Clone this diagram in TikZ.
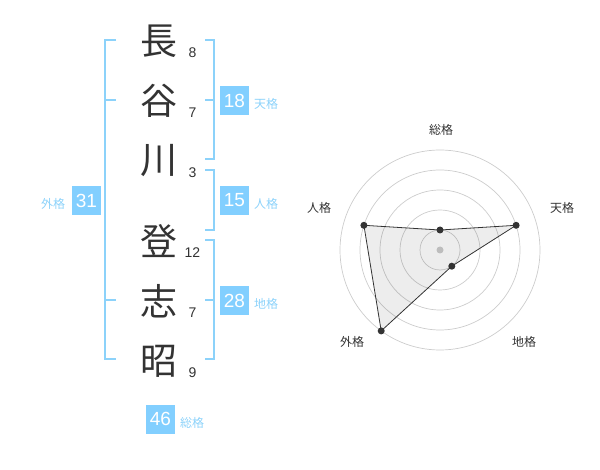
\documentclass[tikz,border=0pt]{standalone}
\usepackage{fontspec}
\setmainfont{Liberation Sans}
\newfontfamily\jp{Noto Sans CJK JP}
\definecolor{boxblue}{HTML}{82CFFF}
\definecolor{brblue}{HTML}{8CD2FA}
\definecolor{txtgray}{HTML}{333333}
\definecolor{ringgray}{HTML}{CCCCCC}
\begin{document}
\begin{tikzpicture}[x=1pt,y=-1pt,
  kanji/.style={font=\jp\fontsize{37}{37}\selectfont, text=txtgray, inner sep=0pt},
  strokes/.style={font=\fontsize{14}{14}\selectfont, text=txtgray, inner sep=0pt},
  numbox/.style={fill=boxblue, minimum size=29pt, inner sep=0pt, text=white, font=\fontsize{19}{19}\selectfont},
  lbl/.style={font=\jp\fontsize{12}{12}\selectfont, text=brblue, inner sep=0pt},
  rlbl/.style={font=\jp\fontsize{12}{12}\selectfont, text=txtgray, inner sep=0pt},
  br/.style={draw=brblue, line width=1.8pt},
  ring/.style={draw=ringgray, line width=0.7pt},
  dot/.style={circle, fill=txtgray, minimum size=7pt, inner sep=0pt}]
\useasboundingbox (0,0) rectangle (600,470);
% characters
\node[kanji] (c1) at (159,41) {長};
\node[kanji] (c2) at (159,101) {谷};
\node[kanji] (c3) at (159,161) {川};
\node[kanji] (c4) at (159,241) {登};
\node[kanji] (c5) at (159,301) {志};
\node[kanji] (c6) at (159,361) {昭};
% stroke counts
\node[strokes] (s1) at (192.5,52.5) {8};
\node[strokes] (s2) at (192.5,112.5) {7};
\node[strokes] (s3) at (192.5,172.5) {3};
\node[strokes] (s4) at (192.5,252.5) {12};
\node[strokes] (s5) at (192.5,312.5) {7};
\node[strokes] (s6) at (192.5,372.5) {9};
% brackets
\draw[br] (116,40) -- (105,40) -- (105,359) -- (116,359);
\draw[br] (105,100) -- (116,100);
\draw[br] (105,300) -- (116,300);
\draw[br] (205,40) -- (214,40) -- (214,159) -- (205,159);
\draw[br] (205,100) -- (214,100);
\draw[br] (205,170) -- (214,170) -- (214,230) -- (205,230);
\draw[br] (205,240) -- (214,240) -- (214,359) -- (205,359);
\draw[br] (205,300) -- (214,300);
% sums
\node[numbox] (b1) at (234.5,100.5) {18};
\node[lbl] (l1) at (266,104) {天格};
\node[numbox] (b2) at (234.5,200.5) {15};
\node[lbl] (l2) at (266,204) {人格};
\node[numbox] (b3) at (234.5,300.5) {28};
\node[lbl] (l3) at (266,304) {地格};
\node[numbox] (b4) at (86.5,200.5) {31};
\node[lbl] (l4) at (53,204) {外格};
\node[numbox] (b5) at (160.5,419) {46};
\node[lbl] (l5) at (192,423) {総格};
% radar
\coordinate (O) at (440,250);
\foreach \r in {20,40,60,80,100} \draw[ring] (O) circle[radius=\r];
\fill[ringgray] (O) circle[radius=3.5];
\coordinate (pS) at (440,230);
\coordinate (pT) at (516.1,225.3);
\coordinate (pC) at (451.8,266.2);
\coordinate (pG) at (381.2,330.9);
\coordinate (pJ) at (363.9,225.3);
\filldraw[fill=black, fill opacity=0.07, draw=txtgray, line width=0.8pt, line join=round]
  (pS) -- (pT) -- (pC) -- (pG) -- (pJ) -- cycle;
\foreach \p in {pS,pT,pC,pG,pJ} \node[dot] at (\p) {};
\node[rlbl] (r1) at (441,130) {総格};
\node[rlbl] (r2) at (562,208) {天格};
\node[rlbl] (r3) at (524,342) {地格};
\node[rlbl] (r4) at (352,342) {外格};
\node[rlbl] (r5) at (319,208) {人格};
\end{tikzpicture}
\end{document}
